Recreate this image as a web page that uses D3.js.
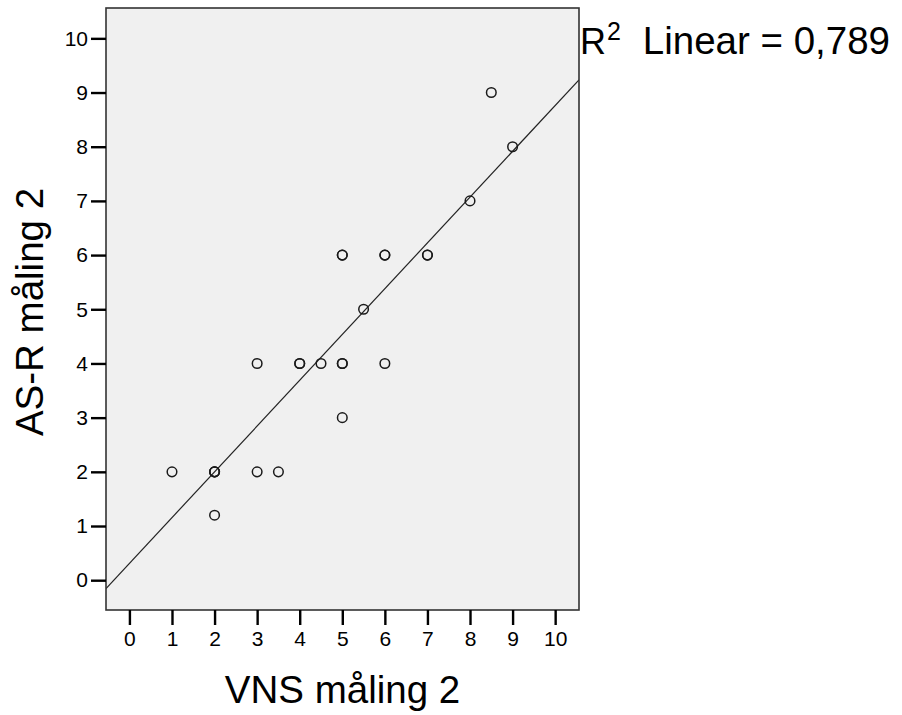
<!DOCTYPE html>
<html>
<head>
<meta charset="utf-8">
<script src="https://cdn.jsdelivr.net/npm/d3@7"></script>
<style>
body{margin:0;background:#fff;}
text{font-family:Arial,"Liberation Sans",sans-serif;fill:#000;}
</style>
</head>
<body>
<svg width="902" height="715"></svg>
<script>
// data (duplicates are listed twice, they draw darker)
let vns  =[1,2,2,2,2,3,3,3.5,4,4,4.5,5,5,5,5,5,5.5,6,6,6,7,7,8,8.5,9]
let asr  =[2,2,2,1.2,2,4,2,2,4,4,4,6,6,4,4,3,5,6,6,4,6,6,7,9,8]
let ticks=[0,1,2,3,4,5,6,7,8,9,10]
let r2Text='0,789'
let fitSlope=0.845, fitIntercept=0.31

let svg=d3.select('svg')
let pLeft=106,pRight=579,pTop=8,pBottom=610

let x=d3.scaleLinear().domain([-0.55,10.56]).range([pLeft,pRight])
let y=d3.scaleLinear().domain([-0.55,10.56]).range([pBottom,pTop])

/*plot background*/
svg.append('rect')
  .attr('x',pLeft).attr('y',pTop)
  .attr('width',pRight-pLeft).attr('height',pBottom-pTop)
  .attr('fill','#f0f0f0')

let clip=svg.append('clipPath').attr('id','clip')
clip.append('rect').attr('x',pLeft).attr('y',pTop).attr('width',pRight-pLeft).attr('height',pBottom-pTop)

/*fit line*/
svg.append('line')
  .attr('clip-path','url(#clip)')
  .attr('x1',x(-0.55)).attr('y1',y(fitIntercept+fitSlope*-0.55))
  .attr('x2',x(10.56)).attr('y2',y(fitIntercept+fitSlope*10.56))
  .attr('stroke','#222').attr('stroke-width',1.2)

/*points*/
svg.append('g').selectAll('circle')
  .data(vns.map((d,i)=>({x:d,y:asr[i]})))
  .enter().append('circle')
  .attr('cx',d=>x(d.x)).attr('cy',d=>y(d.y))
  .attr('r',4.8)
  .attr('fill','none')
  .attr('stroke','#1a1a1a')
  .attr('stroke-width',1.5)

/*frame*/
svg.append('rect')
  .attr('x',pLeft).attr('y',pTop)
  .attr('width',pRight-pLeft).attr('height',pBottom-pTop)
  .attr('fill','none').attr('stroke','#333').attr('stroke-width',1.6)

/*axes*/
let xAxis=svg.append('g').attr('transform','translate(0,'+pBottom+')')
  .call(d3.axisBottom(x).tickValues(ticks).tickSize(15).tickPadding(6).tickFormat(d3.format('d')))
let yAxis=svg.append('g').attr('transform','translate('+pLeft+',0)')
  .call(d3.axisLeft(y).tickValues(ticks).tickSize(15).tickPadding(3).tickFormat(d3.format('d')))
svg.selectAll('.domain').remove()
svg.selectAll('.tick line').attr('stroke','#000').attr('stroke-width',2.4)
svg.selectAll('.tick text').attr('font-size',21).attr('font-family','Arial, Liberation Sans, sans-serif').attr('fill','#000')

/*titles*/
svg.append('text')
  .attr('x',(pLeft+pRight)/2).attr('y',703)
  .attr('text-anchor','middle').attr('font-size',38.5)
  .text('VNS måling 2')
svg.append('text')
  .attr('transform','translate(43,312) rotate(-90)')
  .attr('text-anchor','middle').attr('font-size',38.5)
  .text('AS-R måling 2')

/*R squared label*/
svg.append('text').attr('x',580).attr('y',54).attr('font-size',36).text('R')
svg.append('text').attr('x',607).attr('y',40).attr('font-size',25).text('2')
svg.append('text').attr('x',890).attr('y',54).attr('font-size',38.5)
  .attr('text-anchor','end').text('Linear = '+r2Text)
</script>
</body>
</html>
